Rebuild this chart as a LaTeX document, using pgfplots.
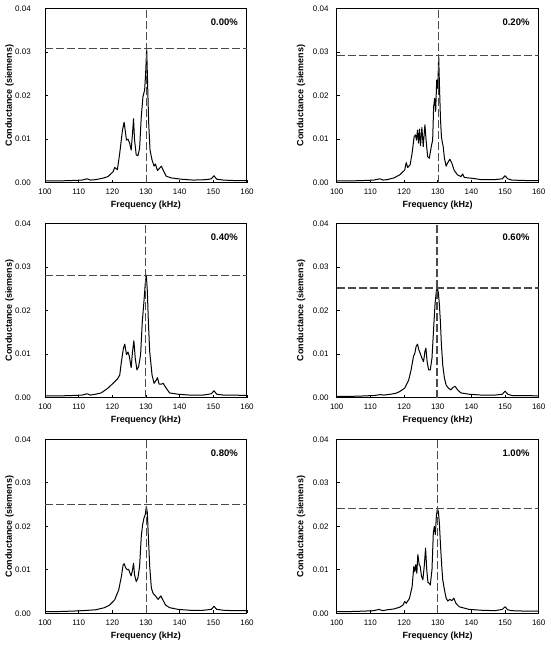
\documentclass[border=0pt]{standalone}
\usepackage{fontspec}
\setmainfont{Liberation Sans}
\usepackage{pgfplots}
\pgfplotsset{compat=1.18}
\definecolor{dashgray}{RGB}{75,75,75}
\pgfplotsset{
  panel/.style={
    width=202pt, height=174pt, scale only axis, anchor=south west,
    xmin=100, xmax=160, ymin=0, ymax=0.04, scaled y ticks=false, scaled x ticks=false,
    xtick={100,110,120,130,140,150,160}, xticklabels={100,110,120,130,140,150,160},
    ytick={0,0.01,0.02,0.03,0.04}, yticklabels={0.00,0.01,0.02,0.03,0.04},
    tick align=inside, major tick length=3pt, xtick pos=bottom, ytick pos=left,
    tick style={black, line width=0.6pt},
    axis line style={black, line width=1pt},
    ticklabel style={font=\fontsize{8}{9.5}\selectfont, inner sep=0pt},
    xticklabel style={yshift=-6pt},
    xlabel={Frequency (kHz)}, ylabel={Conductance (siemens)},
    label style={font=\bfseries\fontsize{9}{11}\selectfont},
    xlabel style={at={(axis description cs:0.5,-0.132)}, anchor=center},
    ylabel style={at={(axis description cs:-0.176,0.5)}, anchor=center},
  },
  leftcol/.style={yticklabel style={xshift=-14pt}},
  rightcol/.style={yticklabel style={xshift=-8pt}},
  curve/.style={black, line width=1pt, line join=round},
  refl/.style={dashgray, line width=1.2pt, dash pattern=on 8pt off 3pt},
}
\newcommand{\pct}[1]{\node[anchor=north east, inner sep=0pt, xshift=-9pt, yshift=-10pt, font=\bfseries\fontsize{9.5}{11}\selectfont] at (rel axis cs:1,1) {#1};}
\begin{document}
\begin{tikzpicture}
\path[use as bounding box] (0,0) rectangle (550pt,647pt);
% ---- 0.00% ----
\begin{axis}[panel, leftcol, at={(45pt,464.3pt)}]
\addplot[curve] coordinates {
(100,0.0004) (104,0.0004) (108,0.0005) (111,0.0006) (112.5,0.0009) (113.5,0.0006) (115,0.0007) (117,0.0010)
(118.7,0.0014) (120.2,0.0025) (120.7,0.0035) (121.5,0.0030) (122.2,0.0068) (123.0,0.0120) (123.5,0.0139)
(124.2,0.0098) (124.65,0.0100) (125.15,0.0091) (125.6,0.0075) (126.0,0.0114) (126.3,0.0147) (126.6,0.0098)
(127.1,0.0064) (127.6,0.0062) (128.1,0.0079) (128.6,0.0152) (129.1,0.0198) (129.6,0.0213) (129.9,0.0252)
(130.2,0.0309) (130.5,0.0221) (130.8,0.0137) (131.2,0.0075) (131.8,0.0052) (132.4,0.0038) (132.8,0.0043)
(133.4,0.0028) (134.0,0.0033) (134.55,0.0038) (135.1,0.0029) (136.0,0.0015) (137.5,0.0011) (140.5,0.0008)
(144,0.0006) (148,0.0007) (149.4,0.0009) (150.2,0.0016) (151,0.0008) (153,0.0006) (156,0.0005) (160,0.0005)};
\addplot[refl] coordinates {(130.2,0) (130.2,0.04)};
\addplot[refl] coordinates {(100,0.0308) (160,0.0308)};
\pct{0.00\%}
\end{axis}
% ---- 0.20% ----
\begin{axis}[panel, rightcol, at={(336.7pt,464.3pt)}]
\addplot[curve] coordinates {
(100,0.0004) (104,0.0004) (108,0.0005) (111,0.0006) (112.8,0.0009) (113.8,0.0006) (115,0.0007) (117,0.0011)
(118.7,0.0018) (120.2,0.0029) (120.65,0.0046) (121.1,0.0035) (121.8,0.0041) (122.4,0.0068) (123.0,0.0106)
(123.4,0.0110) (123.7,0.0098) (124.0,0.0121) (124.3,0.0091) (124.6,0.0123) (124.9,0.0085) (125.3,0.0127)
(125.7,0.0083) (126.2,0.0133) (126.55,0.0098) (127.0,0.0060) (127.5,0.0056) (128.1,0.0083) (128.5,0.0098)
(128.8,0.0175) (129.1,0.0194) (129.4,0.0164) (129.7,0.0236) (130.0,0.0217) (130.3,0.0290) (130.5,0.0229)
(130.8,0.0152) (131.1,0.0106) (131.4,0.0091) (131.6,0.0085) (132.0,0.0056) (132.5,0.0038) (133.0,0.0046)
(133.6,0.0054) (134.2,0.0045) (134.9,0.0028) (135.9,0.0018) (136.9,0.0014) (137.4,0.0020) (137.9,0.0012)
(140.3,0.0010) (143,0.0007) (147,0.0007) (149.2,0.0009) (150.0,0.0016) (150.8,0.0009) (152,0.0006) (156,0.0005) (160,0.0005)};
\addplot[refl] coordinates {(130.2,0) (130.2,0.04)};
\addplot[refl] coordinates {(100,0.0292) (160,0.0292)};
\pct{0.20\%}
\end{axis}
% ---- 0.40% ----
\begin{axis}[panel, leftcol, at={(45pt,249.3pt)}]
\addplot[curve] coordinates {
(100,0.0004) (104,0.0004) (108,0.0005) (111,0.0006) (112.5,0.0009) (113.5,0.0006) (115,0.0008) (116.7,0.0011)
(118.7,0.0022) (120.2,0.0033) (121.5,0.0043) (122.2,0.0052) (122.7,0.0083) (123.3,0.0114) (123.7,0.0123)
(124.2,0.0099) (124.65,0.0105) (125.05,0.0095) (125.6,0.0069) (126.0,0.0106) (126.4,0.0131) (126.8,0.0091)
(127.3,0.0064) (127.8,0.0071) (128.4,0.0099) (128.9,0.0175) (129.4,0.0222) (129.8,0.0264) (130.1,0.0282)
(130.4,0.0245) (130.7,0.0175) (131.1,0.0106) (131.4,0.0083) (131.8,0.0052) (132.4,0.0033) (133.1,0.0041)
(133.4,0.0046) (133.9,0.0031) (134.55,0.0031) (135.1,0.0033) (136.0,0.0022) (137.0,0.0011) (139.5,0.0008)
(143,0.0006) (147,0.0006) (149.4,0.0009) (150.2,0.0016) (151,0.0008) (153,0.0006) (156,0.0006) (160,0.0005)};
\addplot[refl] coordinates {(129.9,0) (129.9,0.04)};
\addplot[refl] coordinates {(100,0.0281) (160,0.0281)};
\pct{0.40\%}
\end{axis}
% ---- 0.60% ----
\begin{axis}[panel, rightcol, at={(336.7pt,249.3pt)}]
\addplot[curve] coordinates {
(100,0.0003) (104,0.0003) (108,0.0004) (111,0.0005) (113,0.0007) (114,0.0006) (116,0.0008) (117.5,0.0010)
(118.7,0.0014) (120.2,0.0022) (121.4,0.0041) (122.1,0.0064) (122.8,0.0095) (123.2,0.0102) (123.6,0.0118)
(124.0,0.0123) (124.4,0.0110) (124.8,0.0102) (125.3,0.0091) (125.8,0.0083) (126.2,0.0106) (126.5,0.0114)
(126.85,0.0083) (127.3,0.0064) (127.8,0.0064) (128.3,0.0091) (128.8,0.0160) (129.2,0.0214) (129.6,0.0245)
(129.9,0.0252) (130.2,0.0241) (130.5,0.0214) (130.8,0.0175) (131.1,0.0122) (131.5,0.0075) (132.0,0.0045)
(132.5,0.0029) (133.2,0.0022) (133.9,0.0018) (134.6,0.0024) (135.2,0.0026) (135.9,0.0018) (136.9,0.0011)
(139.3,0.0008) (143,0.0006) (147,0.0006) (149.2,0.0008) (150.0,0.0015) (150.8,0.0008) (152,0.0005) (156,0.0005) (160,0.0004)};
\addplot[refl] coordinates {(129.8,0) (129.8,0.04)};
\addplot[refl] coordinates {(100,0.0252) (160,0.0252)};
\pct{0.60\%}
\end{axis}
% ---- 0.80% ----
\begin{axis}[panel, leftcol, at={(45pt,33.7pt)}]
\addplot[curve] coordinates {
(100,0.0004) (104,0.0004) (108,0.0005) (111,0.0006) (113,0.0007) (115,0.0008) (117.7,0.0013)
(119.2,0.0019) (120.7,0.0031) (121.9,0.0054) (122.7,0.0085) (123.2,0.0111) (123.5,0.0114) (124.0,0.0104)
(124.5,0.0100) (124.85,0.0101) (125.25,0.0092) (125.6,0.0086) (126.0,0.0100) (126.3,0.0115) (126.6,0.0088)
(127.1,0.0073) (127.6,0.0081) (128.1,0.0108) (128.6,0.0177) (129.0,0.0204) (129.4,0.0219) (129.8,0.0227)
(130.1,0.0246) (130.4,0.0231) (130.7,0.0177) (131.1,0.0108) (131.6,0.0058) (132.1,0.0046) (132.8,0.0040)
(133.6,0.0032) (134.4,0.0040) (135.0,0.0031) (135.8,0.0019) (137.0,0.0013) (139.5,0.0009) (143,0.0007)
(147,0.0007) (149.4,0.0009) (150.2,0.0016) (151,0.0009) (153,0.0007) (156,0.0006) (160,0.0006)};
\addplot[refl] coordinates {(130.2,0) (130.2,0.04)};
\addplot[refl] coordinates {(100,0.0251) (160,0.0251)};
\pct{0.80\%}
\end{axis}
% ---- 1.00% ----
\begin{axis}[panel, rightcol, at={(336.7pt,33.7pt)}]
\addplot[curve] coordinates {
(100,0.0004) (104,0.0004) (108,0.0005) (111,0.0006) (112.6,0.0009) (113.6,0.0006) (115,0.0008) (117,0.0010)
(118.7,0.0014) (119.7,0.0019) (120.2,0.0027) (120.65,0.0023) (121.6,0.0034) (122.4,0.0061) (122.9,0.0108)
(123.2,0.0096) (123.5,0.0112) (123.8,0.0092) (124.1,0.0135) (124.5,0.0112) (124.8,0.0108) (125.2,0.0085)
(125.6,0.0077) (126.0,0.0108) (126.4,0.0150) (126.75,0.0100) (127.1,0.0071) (127.5,0.0069) (127.8,0.0065)
(128.3,0.0100) (128.7,0.0185) (129.0,0.0200) (129.3,0.0181) (129.6,0.0223) (129.9,0.0240) (130.2,0.0234)
(130.5,0.0207) (130.8,0.0161) (131.2,0.0108) (131.5,0.0077) (132.0,0.0054) (132.5,0.0035) (133.0,0.0028)
(133.6,0.0032) (134.2,0.0029) (134.8,0.0035) (135.4,0.0023) (136.4,0.0015) (139.3,0.0009) (143,0.0007)
(147,0.0006) (149.2,0.0009) (150.0,0.0015) (150.8,0.0008) (152,0.0006) (156,0.0005) (160,0.0005)};
\addplot[refl] coordinates {(129.9,0) (129.9,0.04)};
\addplot[refl] coordinates {(100,0.0241) (160,0.0241)};
\pct{1.00\%}
\end{axis}
\end{tikzpicture}
\end{document}
